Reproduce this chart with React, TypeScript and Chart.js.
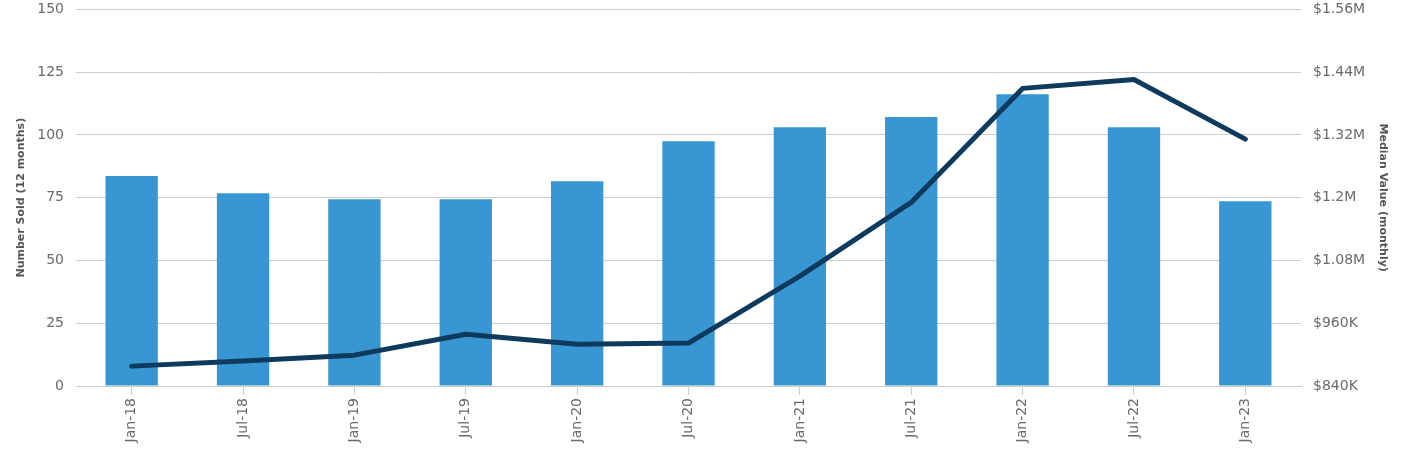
import React, { useEffect, useRef } from "react";
import { Chart, registerables } from "chart.js";

Chart.register(...registerables);

const categories = ["Jan-18", "Jul-18", "Jan-19", "Jul-19", "Jan-20", "Jul-20", "Jan-21", "Jul-21", "Jan-22", "Jul-22", "Jan-23"];
const numberSold = [83.6, 76.8, 74.4, 74.4, 81.6, 97.5, 103.1, 107.1, 116.2, 103.1, 73.6];
const medianValue = [878000, 888000, 899000, 939000, 920000, 922000, 1050000, 1191000, 1409000, 1426000, 1312000];

const leftTitle = "Number Sold (12 months)";
const rightTitle = "Median Value (monthly)";

function fmtMoney(v: number): string {
  if (v >= 1000000) {
    const m = Math.round(v / 10000) / 100;
    return "$" + m + "M";
  }
  return "$" + Math.round(v / 1000) + "K";
}

export default function App() {
  const ref = useRef<HTMLCanvasElement | null>(null);
  useEffect(() => {
    document.body.style.margin = "0";
    const ctx = ref.current!;
    const font = "DejaVu Sans";
    const chart = new Chart(ctx, {
      data: {
        labels: categories,
        datasets: [
          {
            type: "line",
            label: "Median Value",
            data: medianValue,
            yAxisID: "y1",
            borderColor: "#0e3a5e",
            backgroundColor: "#0e3a5e",
            borderWidth: 5,
            pointRadius: 0,
            tension: 0,
            borderCapStyle: "round",
            borderJoinStyle: "round",
            order: 0,
          },
          {
            type: "bar",
            label: "Number Sold",
            data: numberSold,
            yAxisID: "y",
            backgroundColor: "#3897d3",
            barPercentage: 0.47,
            categoryPercentage: 1,
            order: 1,
          },
        ],
      },
      options: {
        responsive: false,
        animation: false,
        maintainAspectRatio: false,
        layout: { padding: 0 },
        plugins: { legend: { display: false }, tooltip: { enabled: false } },
        scales: {
          x: {
            offset: true,
            grid: { offset: false, drawOnChartArea: false, drawTicks: true, tickLength: 9, color: "#cccccc" },
            border: { display: true, color: "#cccccc" },
            ticks: {
              color: "#6a6a6a",
              font: { family: font, size: 14 },
              maxRotation: 90,
              minRotation: 90,
              padding: 3,
            },
            afterFit: (s: any) => {
              s.height = 73;
            },
          },
          y: {
            position: "left",
            min: 0,
            max: 150,
            ticks: { stepSize: 25, color: "#6a6a6a", font: { family: font, size: 14 }, padding: 12 },
            grid: { color: "#cccccc", drawTicks: false },
            border: { display: false },
            title: {
              display: true,
              text: leftTitle,
              color: "#555555",
              font: { family: font, size: 11, weight: "bold" },
              padding: { top: 15, bottom: 0 },
            },
            afterFit: (s: any) => {
              s.width = 76;
            },
          },
          y1: {
            position: "right",
            min: 840000,
            max: 1560000,
            ticks: {
              stepSize: 120000,
              color: "#6a6a6a",
              font: { family: font, size: 14 },
              padding: 12,
              callback: (v: any) => fmtMoney(Number(v)),
            },
            grid: { drawOnChartArea: false, drawTicks: false },
            border: { display: false },
            title: {
              display: true,
              text: rightTitle,
              color: "#555555",
              font: { family: font, size: 11, weight: "bold" },
              padding: { top: 15, bottom: 0 },
            },
            afterFit: (s: any) => {
              s.width = 103;
            },
          },
        },
      },
    } as any);
    return () => chart.destroy();
  }, []);
  return (
    <div style={{ width: 1404, height: 459, overflow: "hidden" }}>
      <canvas ref={ref} width={1404} height={470} style={{ display: "block", marginTop: -11 }} />
    </div>
  );
}
